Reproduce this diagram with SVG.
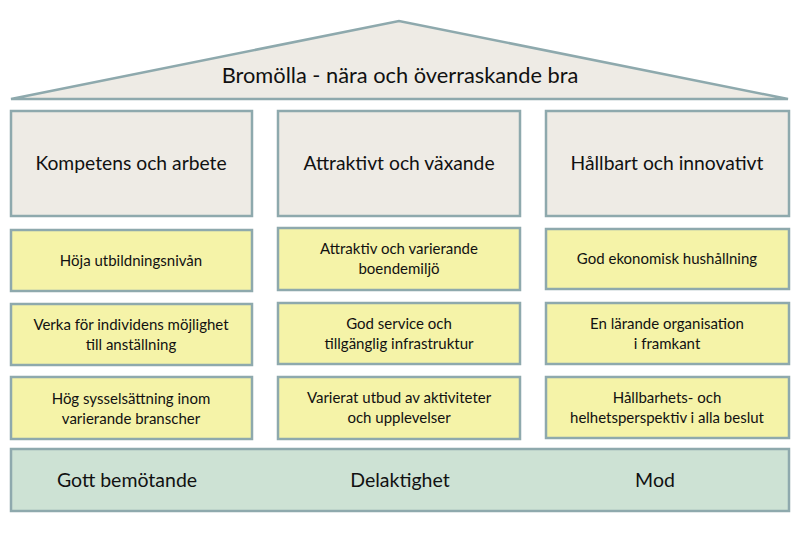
<svg xmlns="http://www.w3.org/2000/svg" width="800" height="542" viewBox="0 0 800 542">
<style>
.s{stroke:#8ea9ad;stroke-width:2.5}
.roof{fill:#eeebe5}
.head{fill:#eeebe5}
.goal{fill:#f5f3a8}
.base{fill:#cde2d4}
text{font-family:Lato,"Open Sans",sans-serif;fill:#111111;text-anchor:middle}
.t1{font-size:21.8px}
.t2{font-size:19.3px}
.t3{font-size:15px}
.t4{font-size:19.5px}
</style>
<rect width="800" height="542" fill="#ffffff"/>
<g id="roof">
<polygon class="s roof" points="11,99 399,21 788,99"/>
<text class="t1" x="400" y="83">Bromölla - nära och överraskande bra</text>
</g>
<g id="head1"><rect class="s head" x="11" y="111" width="241" height="105"/><text class="t2" x="131" y="170">Kompetens och arbete</text></g>
<g id="head2"><rect class="s head" x="278" y="111" width="242" height="105"/><text class="t2" x="399" y="170">Attraktivt och växande</text></g>
<g id="head3"><rect class="s head" x="546" y="111" width="243" height="105"/><text class="t2" x="667" y="170">Hållbart och innovativt</text></g>

<g id="g11"><rect class="s goal" x="11" y="230" width="241" height="61"/><text class="t3" x="131" y="266">Höja utbildningsnivån</text></g>
<g id="g12"><rect class="s goal" x="11" y="304" width="241" height="61"/><text class="t3" x="131" y="330">Verka för individens möjlighet</text><text class="t3" x="131" y="350">till anställning</text></g>
<g id="g13"><rect class="s goal" x="11" y="377" width="241" height="62"/><text class="t3" x="131" y="404">Hög sysselsättning inom</text><text class="t3" x="131" y="424">varierande branscher</text></g>

<g id="g21"><rect class="s goal" x="278" y="228" width="242" height="62"/><text class="t3" x="399" y="254">Attraktiv och varierande</text><text class="t3" x="399" y="274">boendemiljö</text></g>
<g id="g22"><rect class="s goal" x="278" y="303" width="242" height="61"/><text class="t3" x="399" y="329">God service och</text><text class="t3" x="399" y="349">tillgänglig infrastruktur</text></g>
<g id="g23"><rect class="s goal" x="278" y="377" width="242" height="62"/><text class="t3" x="399" y="403">Varierat utbud av aktiviteter</text><text class="t3" x="399" y="423">och upplevelser</text></g>

<g id="g31"><rect class="s goal" x="546" y="229" width="243" height="60"/><text class="t3" x="667" y="264">God ekonomisk hushållning</text></g>
<g id="g32"><rect class="s goal" x="546" y="303" width="243" height="61"/><text class="t3" x="667" y="329">En lärande organisation</text><text class="t3" x="667" y="349">i framkant</text></g>
<g id="g33"><rect class="s goal" x="546" y="377" width="243" height="61"/><text class="t3" x="667" y="403">Hållbarhets- och</text><text class="t3" x="667" y="423">helhetsperspektiv i alla beslut</text></g>

<g id="base"><rect class="s base" x="11" y="449" width="778" height="62"/>
<text class="t4" x="127" y="487">Gott bemötande</text>
<text class="t4" x="400" y="487">Delaktighet</text>
<text class="t4" x="655" y="487">Mod</text>
</g>
<g id="connectors"></g>
</svg>
